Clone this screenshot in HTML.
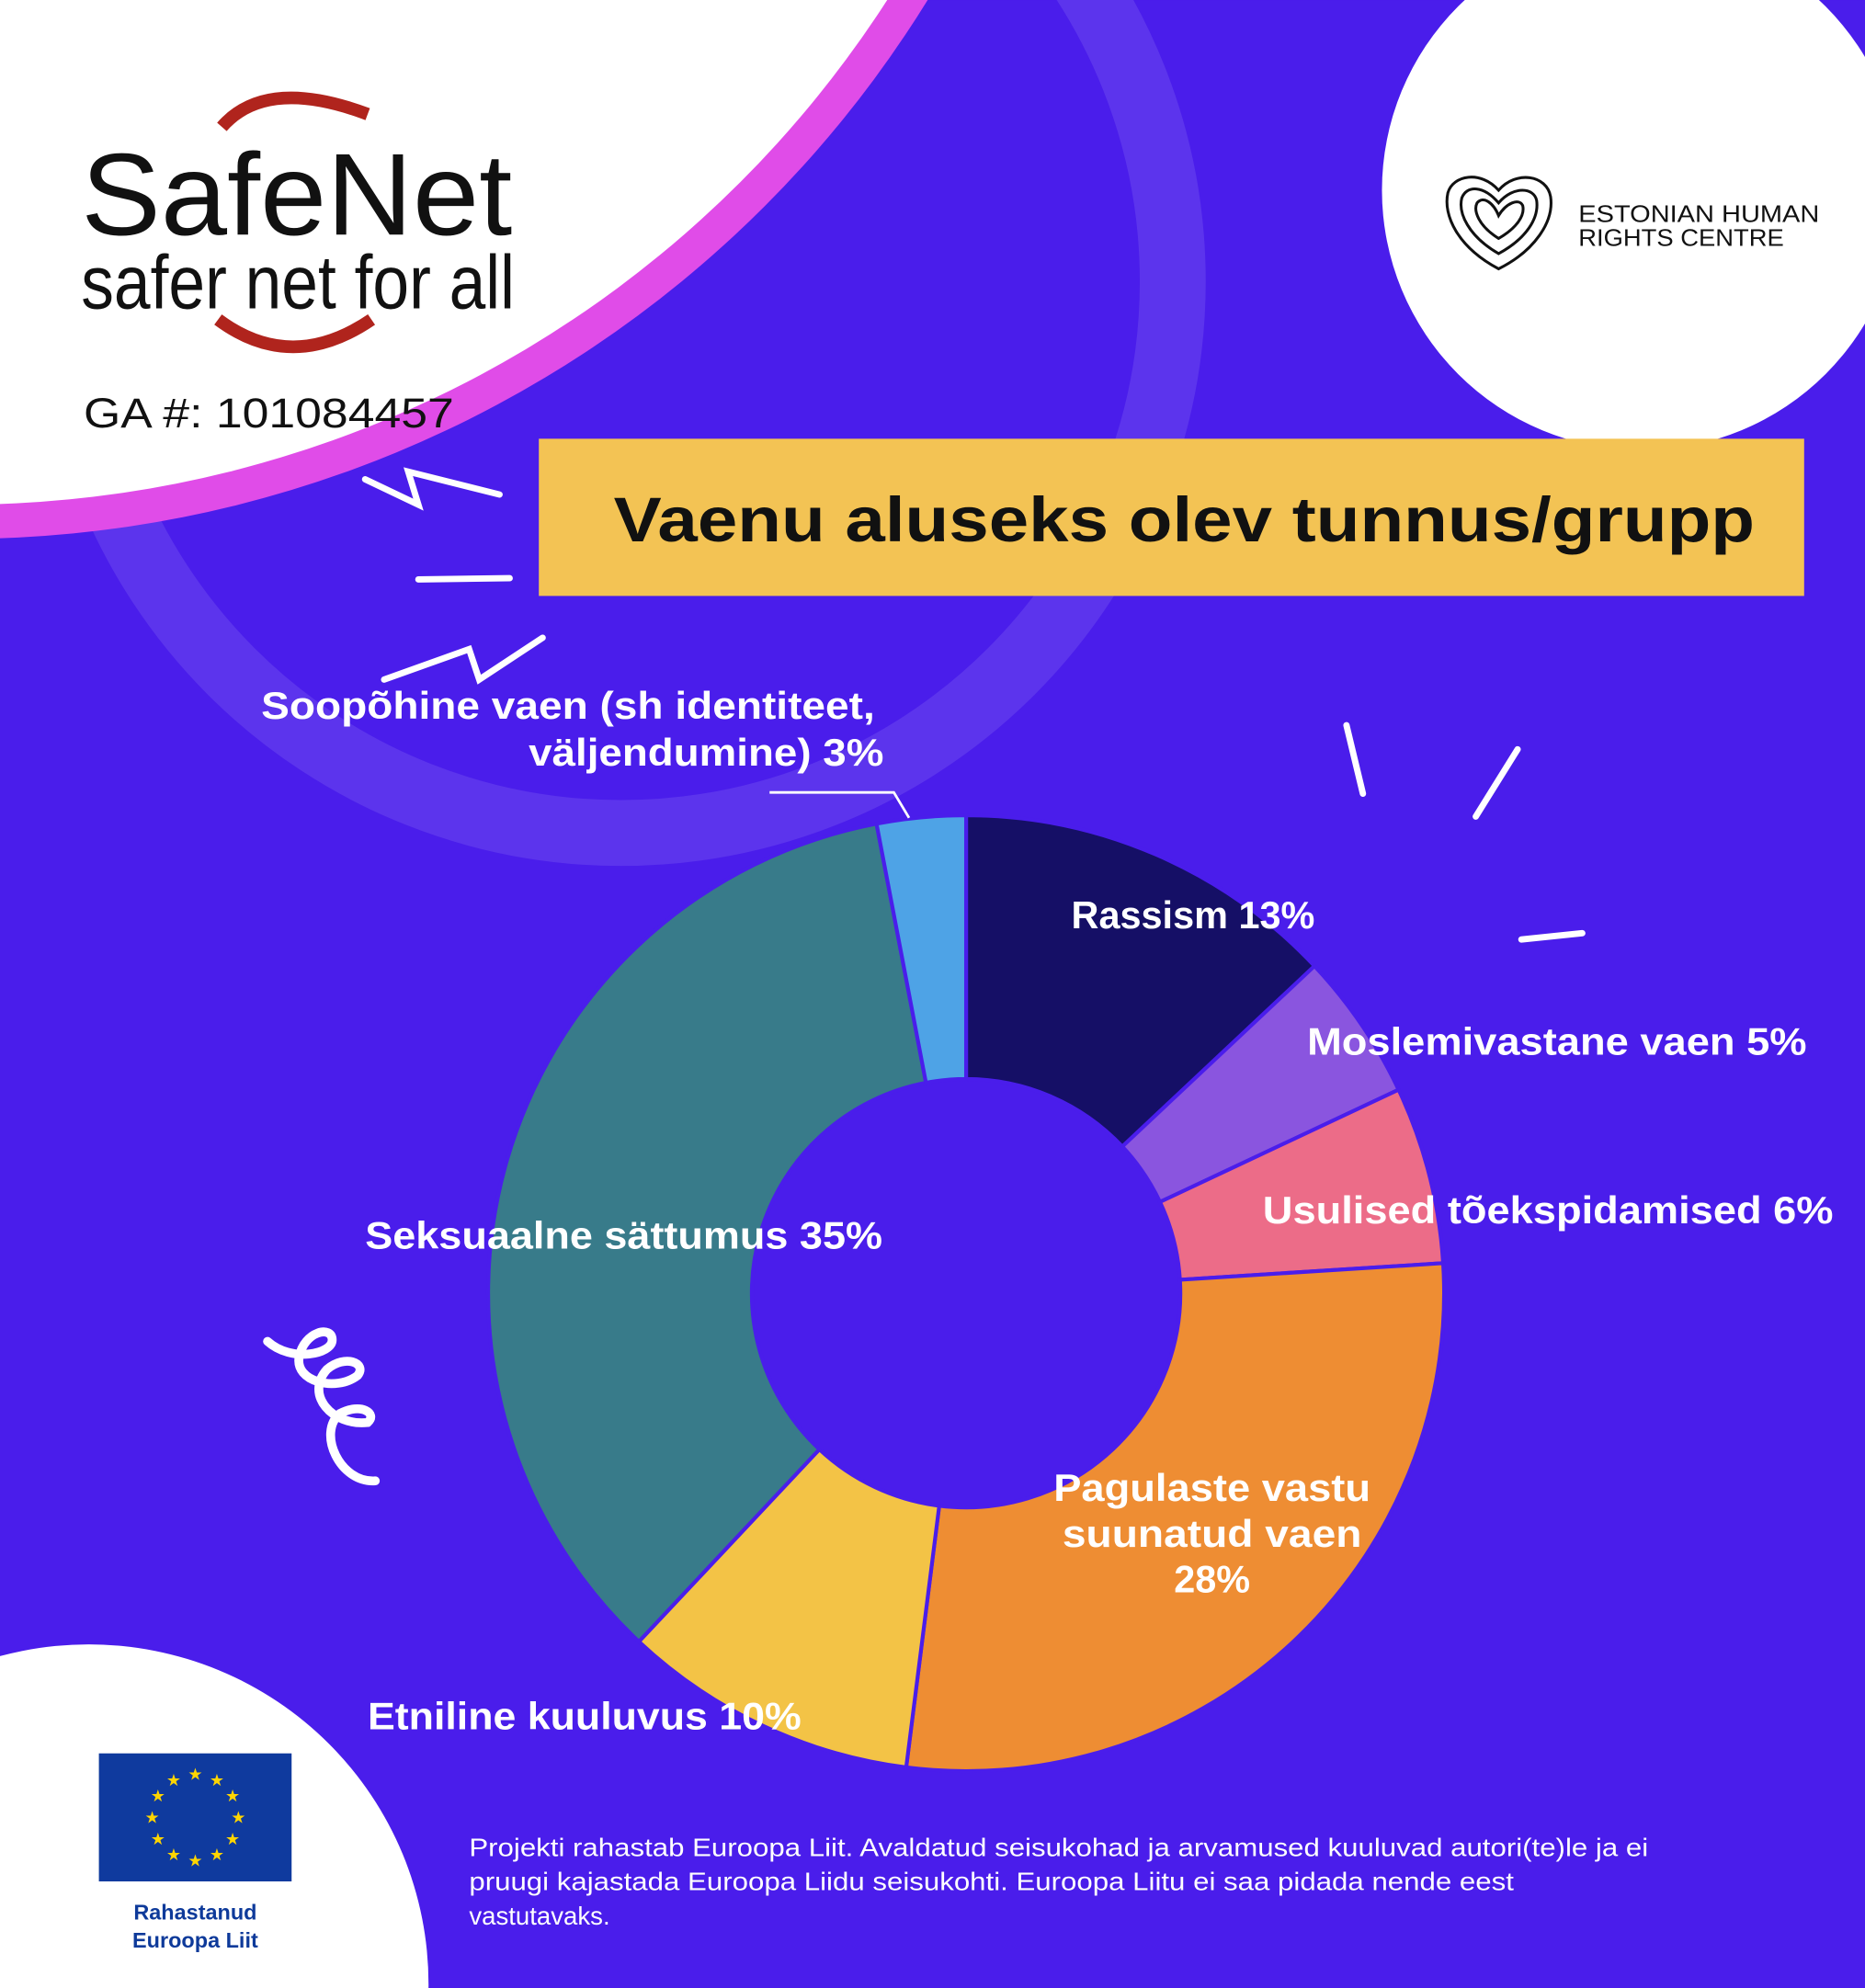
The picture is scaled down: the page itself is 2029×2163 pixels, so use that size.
<!DOCTYPE html>
<html><head><meta charset="utf-8"><style>
html,body{margin:0;padding:0;background:#4a1deb;width:2029px;height:2163px;overflow:hidden}
svg{display:block}
text{font-family:"Liberation Sans",sans-serif}
.lb{fill:#fff;font-weight:bold;font-size:30px}
</style></head><body>
<svg id="s" width="2029" height="2163" viewBox="0 0 1471 1568" xmlns="http://www.w3.org/2000/svg">
<rect width="1471" height="1568" fill="#4a1deb"/>
<circle cx="490" cy="222" r="435" fill="none" stroke="#ffffff" stroke-opacity="0.1" stroke-width="52"/>
<circle cx="-30" cy="-470" r="895" fill="#e04ce8"/>
<circle cx="-30" cy="-470" r="868" fill="#fff"/>
<circle cx="1295" cy="150" r="205" fill="#fff"/>
<circle cx="70" cy="1565" r="268" fill="#fff"/>
<path d="M175 100 Q210 60 290 90" fill="none" stroke="#b0241d" stroke-width="10"/>
<path d="M172 252 Q230 295 293 252" fill="none" stroke="#b0241d" stroke-width="10"/>
<text x="64" y="185" font-size="92" fill="#111" textLength="340" lengthAdjust="spacingAndGlyphs">SafeNet</text>
<text x="64" y="243" font-size="60" fill="#111" textLength="342" lengthAdjust="spacingAndGlyphs">safer net for all</text>
<text x="66" y="337" font-size="33" fill="#111" textLength="292" lengthAdjust="spacingAndGlyphs">GA #: 101084457</text>
<g fill="none" stroke="#111" stroke-width="2.2">
<path d="M1182 212 C1150 195 1138 170 1142 152 C1146 138 1168 134 1182 150 C1196 134 1220 138 1223 155 C1226 175 1210 198 1182 212Z"/>
<path d="M1182 200 C1158 186 1150 168 1153 156 C1157 146 1170 146 1182 160 C1194 146 1210 148 1212 158 C1214 172 1204 188 1182 200Z"/>
<path d="M1182 188 C1166 178 1162 166 1165 160 C1170 154 1178 160 1182 170 C1188 160 1198 156 1201 162 C1203 170 1196 180 1182 188Z"/>
</g>
<text x="1245" y="175" font-size="19" fill="#111" font-family="Liberation Mono" textLength="190" lengthAdjust="spacingAndGlyphs">ESTONIAN HUMAN</text>
<text x="1245" y="194" font-size="19" fill="#111" font-family="Liberation Mono" textLength="162" lengthAdjust="spacingAndGlyphs">RIGHTS CENTRE</text>
<rect x="425" y="346" width="998" height="124" fill="#f3c354"/>
<text x="484" y="427" font-size="50" font-weight="bold" fill="#111" textLength="900" lengthAdjust="spacingAndGlyphs">Vaenu aluseks olev tunnus/grupp</text>
<g fill="none" stroke="#fff" stroke-width="5" stroke-linecap="round">
<path d="M288 378 L330 398 L322 372 L394 390"/>
<path d="M330 457 L402 456"/>
<path d="M303 536 L370 512 L378 536 L428 503"/>
<path d="M1062 572 L1075 626"/>
<path d="M1197 591 L1164 644"/>
<path d="M1200 741 L1248 736"/>
<path d="M211 1058 C230 1075 262 1068 262 1057 C262 1045 240 1050 236 1070 C232 1090 265 1098 282 1085 C290 1075 272 1068 258 1080 C240 1100 262 1125 290 1122 C298 1115 285 1106 268 1115 C250 1130 268 1170 296 1168" stroke-width="7"/>
</g>
<g id="d"></g>
<path d="M607 625 L705 625 L717 645" fill="none" stroke="#fff" stroke-width="2"/>
<text class="lb" x="690" y="567" text-anchor="end" textLength="484" lengthAdjust="spacingAndGlyphs">Soopõhine vaen (sh identiteet,</text>
<text class="lb" x="697" y="604" text-anchor="end" textLength="280" lengthAdjust="spacingAndGlyphs">väljendumine) 3%</text>
<text class="lb" x="845" y="732" textLength="192" lengthAdjust="spacingAndGlyphs">Rassism 13%</text>
<text class="lb" x="1031" y="832" textLength="394" lengthAdjust="spacingAndGlyphs">Moslemivastane vaen 5%</text>
<text class="lb" x="996" y="965" textLength="450" lengthAdjust="spacingAndGlyphs">Usulised tõekspidamised 6%</text>
<text class="lb" x="288" y="985" textLength="408" lengthAdjust="spacingAndGlyphs">Seksuaalne sättumus 35%</text>
<text class="lb" x="956" y="1184" text-anchor="middle" textLength="250" lengthAdjust="spacingAndGlyphs">Pagulaste vastu</text>
<text class="lb" x="956" y="1220" text-anchor="middle" textLength="236" lengthAdjust="spacingAndGlyphs">suunatud vaen</text>
<text class="lb" x="956" y="1256" text-anchor="middle">28%</text>
<text class="lb" x="290" y="1364" textLength="342" lengthAdjust="spacingAndGlyphs">Etniline kuuluvus 10%</text>
<rect x="78" y="1383" width="152" height="101" fill="#0f3a9e"/>
<g id="st" fill="#ffd500" font-size="13" text-anchor="middle"></g>
<text x="154" y="1514" font-size="17" font-weight="bold" fill="#0e3a9a" text-anchor="middle">Rahastanud</text>
<text x="154" y="1536" font-size="17" font-weight="bold" fill="#0e3a9a" text-anchor="middle">Euroopa Liit</text>
<g font-size="20" fill="#fff">
<text x="370" y="1464" textLength="930" lengthAdjust="spacingAndGlyphs">Projekti rahastab Euroopa Liit. Avaldatud seisukohad ja arvamused kuuluvad autori(te)le ja ei</text>
<text x="370" y="1491" textLength="824" lengthAdjust="spacingAndGlyphs">pruugi kajastada Euroopa Liidu seisukohti. Euroopa Liitu ei saa pidada nende eest</text>
<text x="370" y="1518">vastutavaks.</text>
</g>
</svg>
<script>
var NS="http://www.w3.org/2000/svg";
var d=[[13,"#150f66"],[5,"#8a55df"],[6,"#ec6c88"],[28,"#ee8d33"],[10,"#f3c346"],[35,"#387b8a"],[3,"#4ea3e6"]];
var cx=762,cy=1020,R=377,r=169,a=0,g=document.getElementById("d");
function p(rad,an){return [cx+rad*Math.sin(an),cy-rad*Math.cos(an)];}
d.forEach(function(s){var a0=a*Math.PI/50,a1=(a+s[0])*Math.PI/50;a+=s[0];
var L=(a1-a0)>Math.PI?1:0,o0=p(R,a0),o1=p(R,a1),i1=p(r,a1),i0=p(r,a0);
var e=document.createElementNS(NS,"path");
e.setAttribute("d","M"+o0+"A"+R+","+R+" 0 "+L+" 1 "+o1+"L"+i1+"A"+r+","+r+" 0 "+L+" 0 "+i0+"Z");
e.setAttribute("fill",s[1]);e.setAttribute("stroke","#4a1deb");e.setAttribute("stroke-width","3");e.setAttribute("stroke-linejoin","round");g.appendChild(e);});
var st=document.getElementById("st");
for(var i=0;i<12;i++){var an=i*Math.PI/6,t=document.createElementNS(NS,"text");t.setAttribute("x",154+34*Math.sin(an));t.setAttribute("y",1433-34*Math.cos(an)+5);t.textContent="★";st.appendChild(t);}
</script>
</body></html>
